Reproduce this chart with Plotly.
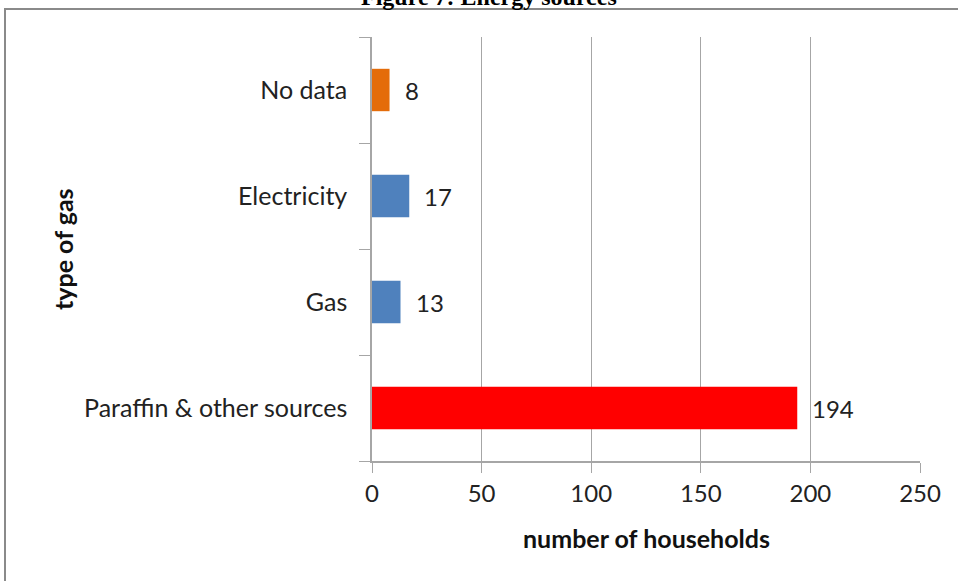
import plotly.graph_objects as go

categories = ["Paraffin & other sources", "Gas", "Electricity", "No data"]
values = [194, 13, 17, 8]
colors = ["#FF0000", "#4F81BD", "#4F81BD", "#E46C0A"]
x_ticks = [0, 50, 100, 150, 200, 250]

W, H = 958, 581
L, R, T, B = 372, 38, 37, 120
pw, ph = W - L - R, H - T - B

def px_x(p):
    return (p - L) / pw

def px_y(p):
    return (H - B - p) / ph

font = "Lato, 'Open Sans', sans-serif"
fsize = 24

fig = go.Figure(go.Bar(
    y=categories, x=values, orientation="h",
    marker=dict(color=colors, line=dict(width=0)),
    width=0.4,
))

for c, v in zip(categories, values):
    fig.add_annotation(x=v, y=c, text=str(v), showarrow=False, xanchor="left",
                       xshift=13, font=dict(family=font, size=fsize, color="#222"))

fig.add_annotation(xref="paper", yref="paper", x=px_x(489), y=px_y(-3),
                   text="<b>Figure 7: Energy sources</b>", showarrow=False,
                   xanchor="center", yanchor="middle",
                   font=dict(family="'Liberation Serif', serif", size=24, color="#000"))

fig.add_annotation(xref="paper", yref="paper", x=px_x(63), y=px_y(249),
                   text="<b>type of gas</b>", showarrow=False, textangle=-90,
                   xanchor="center", yanchor="middle",
                   font=dict(family=font, size=25, color="#111"))

fig.add_annotation(xref="paper", yref="paper", x=px_x(646), y=px_y(538),
                   text="<b>number of households</b>", showarrow=False,
                   xanchor="center", yanchor="middle",
                   font=dict(family=font, size=25, color="#111"))

fig.add_shape(type="rect", xref="paper", yref="paper",
              x0=px_x(5), x1=px_x(975), y0=px_y(9), y1=px_y(600),
              line=dict(color="#8a8a8a", width=2), layer="below")

fig.update_layout(
    width=W, height=H,
    margin=dict(l=L, r=R, t=T, b=B, autoexpand=False),
    plot_bgcolor="white", paper_bgcolor="white",
    showlegend=False,
    bargap=0.6,
    xaxis=dict(
        range=[0, 250], tickvals=x_ticks, showgrid=True, gridcolor="#a6a6a6", gridwidth=1,
        showline=True, linecolor="#a6a6a6", linewidth=1.5,
        ticks="outside", ticklen=10, tickcolor="#a6a6a6", zeroline=False,
        tickfont=dict(family=font, size=fsize, color="#222"),
    ),
    yaxis=dict(
        categoryorder="array", categoryarray=categories,
        showline=True, linecolor="#a6a6a6", linewidth=1.5,
        ticks="outside", ticklen=11, tickcolor="#a6a6a6", tickson="boundaries",
        showgrid=False,
        tickfont=dict(family=font, size=25, color="#222"),
        ticklabelstandoff=18,
    ),
)

fig.write_html("out.html", config={"displayModeBar": False},
               post_script="document.body.style.margin='0';")
